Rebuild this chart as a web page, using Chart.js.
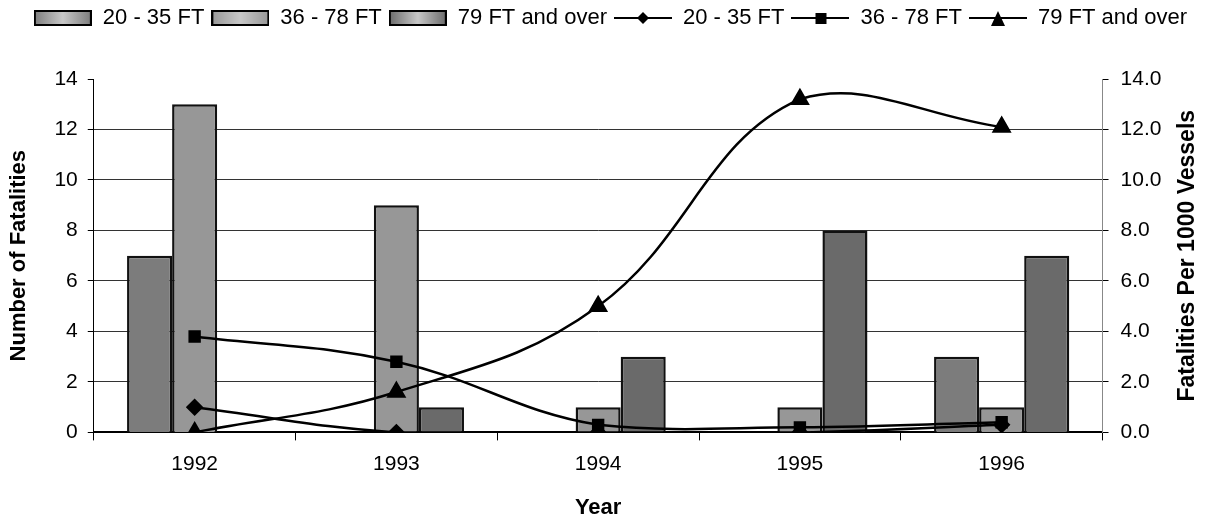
<!DOCTYPE html>
<html>
<head>
<meta charset="utf-8">
<script src="https://cdn.jsdelivr.net/npm/chart.js@4.4.1/dist/chart.umd.min.js"></script>
<style>
  html, body { margin: 0; padding: 0; background: #fff; }
  #wrap { width: 1215px; height: 521px; }
</style>
</head>
<body>
<div id="wrap"><canvas id="myChart" width="1215" height="521"></canvas></div>
<script>
var years = ['1992', '1993', '1994', '1995', '1996'];
var seriesNames = ['20 - 35 FT', '36 - 78 FT', '79 FT and over'];

// number of fatalities (bars, left axis)
var deaths20to35 = [7, 0, 0, 0, 3];
var deaths36to78 = [13, 9, 1, 1, 1];
var deaths79plus = [0, 1, 3, 8, 7];

// fatalities per 1000 vessels (lines, right axis)
var rate20to35 = [1.0, 0.0, 0.0, 0.0, 0.3];
var rate36to78 = [3.8, 2.8, 0.3, 0.2, 0.4];
var rate79plus = [0.0, 1.6, 5.0, 13.2, 12.1];

var axisTicks = [0, 2, 4, 6, 8, 10, 12, 14];
var rightTitle = 'Fatalities Per 1000 Vessels';

var barColors = ['#7c7c7c', '#979797', '#6a6a6a'];
var markers = ['rectRot', 'rect', 'triangle'];

var font = "'Liberation Sans', Arial, sans-serif";

function boxIcon(color) {
    var c = document.createElement('canvas');
    c.width = 58; c.height = 16;
    var g = c.getContext('2d');
    var grad = g.createLinearGradient(0, 0, 58, 0);
    grad.addColorStop(0, color);
    grad.addColorStop(0.5, '#c8c8c8');
    grad.addColorStop(1, color);
    g.fillStyle = grad;
    g.fillRect(1, 1, 56, 14);
    g.strokeStyle = '#000';
    g.lineWidth = 2;
    g.strokeRect(1, 1, 56, 14);
    return c;
}

function lineIcon(style) {
    var c = document.createElement('canvas');
    c.width = 58; c.height = 18;
    var g = c.getContext('2d');
    g.strokeStyle = '#000';
    g.lineWidth = 2;
    g.beginPath(); g.moveTo(0, 9); g.lineTo(58, 9); g.stroke();
    g.fillStyle = '#000';
    g.beginPath();
    if (style == 'rectRot') {
        g.moveTo(29, 3); g.lineTo(35, 9); g.lineTo(29, 15); g.lineTo(23, 9);
    } else if (style == 'rect') {
        g.rect(24, 4, 11, 11);
    } else {
        g.moveTo(29, 2); g.lineTo(36, 17); g.lineTo(22, 17);
    }
    g.closePath(); g.fill();
    return c;
}

var barData = [deaths20to35, deaths36to78, deaths79plus];
var rateData = [rate20to35, rate36to78, rate79plus];

var datasets = [];
for (var i = 0; i < 3; i++) {
    datasets.push({
        type: 'bar',
        label: seriesNames[i],
        data: barData[i],
        backgroundColor: barColors[i],
        borderColor: '#111',
        borderWidth: 2.5,
        yAxisID: 'y',
        order: 2
    });
}
for (var j = 0; j < 3; j++) {
    datasets.push({
        type: 'line',
        label: seriesNames[j],
        data: rateData[j],
        borderColor: '#000',
        backgroundColor: '#000',
        borderWidth: 2.5,
        pointStyle: markers[j],
        pointRadius: j == 2 ? 9 : 7,
        tension: 0.4,
        fill: false,
        yAxisID: 'y1',
        order: 1
    });
}

// extra space under the legend, and the right-hand title read bottom to top
var layoutFix = {
    id: 'layoutFix',
    beforeInit: function (chart) {
        var fit = chart.legend.fit;
        chart.legend.fit = function () {
            fit.bind(chart.legend)();
            this.height += 40;
        };
    },
    afterDraw: function (chart) {
        var c = chart.ctx;
        var area = chart.chartArea;
        c.save();
        c.translate(1188, (area.top + area.bottom) / 2);
        c.rotate(-Math.PI / 2);
        c.font = 'bold 23px ' + font;
        c.fillStyle = '#000';
        c.textAlign = 'center';
        c.textBaseline = 'middle';
        c.fillText(rightTitle, 0, 0);
        c.restore();
    }
};

var ctx = document.getElementById('myChart').getContext('2d');
new Chart(ctx, {
    data: { labels: years, datasets: datasets },
    plugins: [layoutFix],
    options: {
        responsive: false,
        animation: false,
        layout: { padding: { left: 6, right: 0, top: 0, bottom: 0 } },
        datasets: {
            bar: { categoryPercentage: 0.67, barPercentage: 1.0 }
        },
        plugins: {
            tooltip: { enabled: false },
            legend: {
                position: 'top',
                labels: {
                    usePointStyle: true,
                    pointStyleWidth: 58,
                    boxHeight: 16,
                    padding: 7,
                    color: '#000',
                    font: { family: font, size: 22 },
                    generateLabels: function (chart) {
                        return chart.data.datasets.map(function (ds, k) {
                            return {
                                text: ds.label,
                                pointStyle: ds.type == 'bar' ? boxIcon(ds.backgroundColor) : lineIcon(ds.pointStyle),
                                fillStyle: '#000',
                                strokeStyle: '#000',
                                lineWidth: 0,
                                hidden: false,
                                datasetIndex: k,
                                fontColor: '#000'
                            };
                        });
                    }
                }
            }
        },
        scales: {
            x: {
                grid: { offset: true, drawOnChartArea: false, tickLength: 8, color: '#000' },
                border: { color: '#000', width: 2 },
                ticks: { color: '#000', font: { family: font, size: 21 }, padding: 11 },
                title: {
                    display: true, text: 'Year', color: '#000',
                    font: { family: font, size: 22, weight: 'bold' },
                    padding: { top: 7, bottom: 0 }
                }
            },
            y: {
                position: 'left',
                min: 0, max: 14,
                afterBuildTicks: function (axis) {
                    axis.ticks = axisTicks.map(function (v) { return { value: v }; });
                },
                grid: {
                    color: function (c) { return c.tick && c.tick.value == 14 ? 'rgba(0,0,0,0)' : '#333'; },
                    tickColor: '#000',
                    tickLength: 6
                },
                border: { color: '#000', width: 1 },
                ticks: { color: '#000', font: { family: font, size: 21 }, padding: 10 },
                title: {
                    display: true, text: 'Number of Fatalities', color: '#000',
                    font: { family: font, size: 22, weight: 'bold' },
                    padding: { top: 0, bottom: 12 }
                }
            },
            y1: {
                position: 'right',
                min: 0, max: 14,
                afterBuildTicks: function (axis) {
                    axis.ticks = axisTicks.map(function (v) { return { value: v }; });
                },
                grid: { drawOnChartArea: false, tickColor: '#000', tickLength: 6 },
                border: { color: '#888', width: 1 },
                ticks: {
                    color: '#000', font: { family: font, size: 21 }, padding: 12,
                    callback: function (v) { return Number(v).toFixed(1); }
                },
                // space is kept here, the visible title is drawn by layoutFix
                title: {
                    display: true, text: rightTitle, color: 'rgba(0,0,0,0)',
                    font: { family: font, size: 23, weight: 'bold' },
                    padding: { top: 6, bottom: 8 }
                }
            }
        }
    }
});
</script>
</body>
</html>
